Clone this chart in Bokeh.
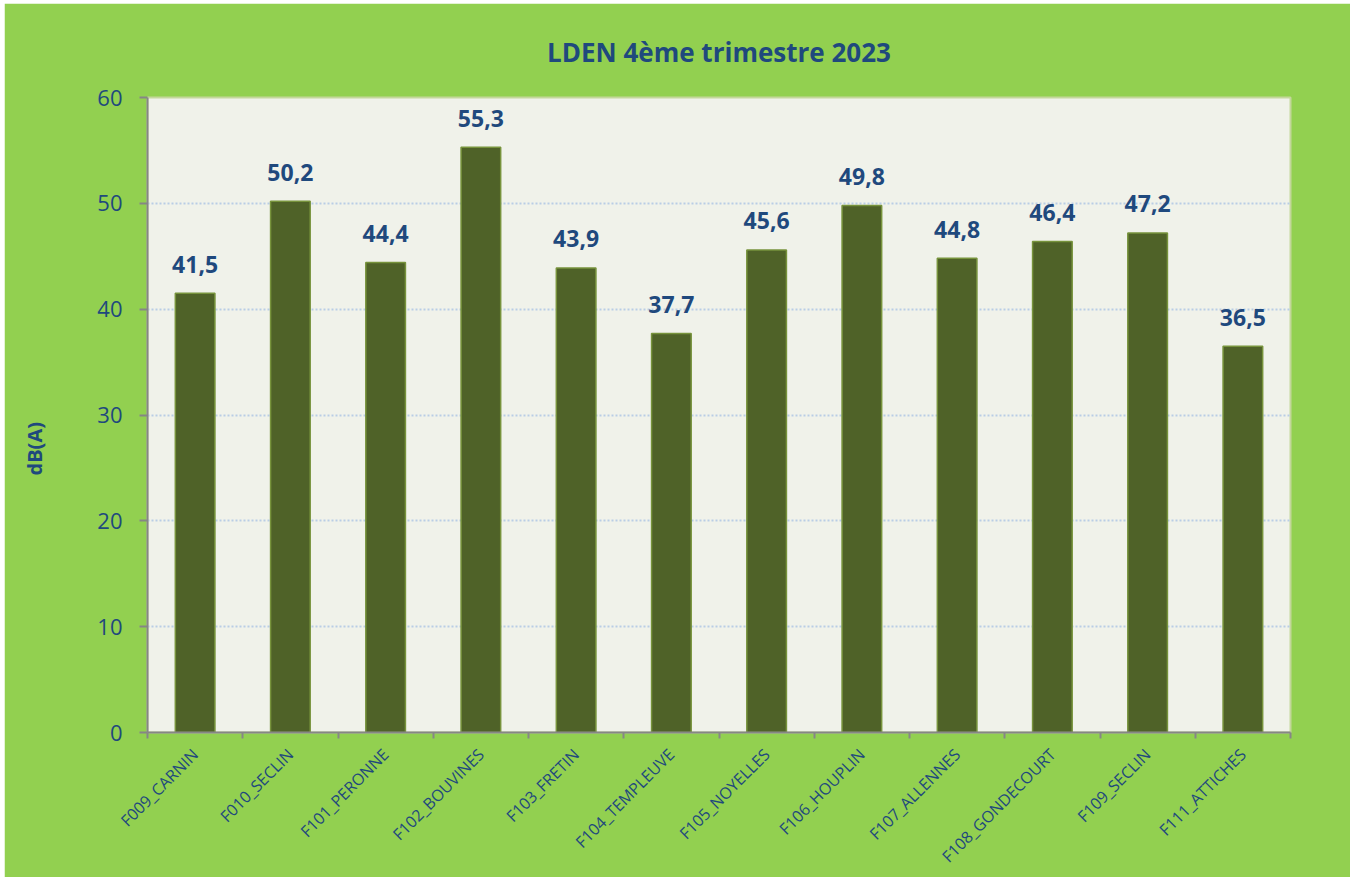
import math
from bokeh.plotting import figure
from bokeh.models import ColumnDataSource, Range1d, FixedTicker
from bokeh.core.properties import value
from bokeh.embed import file_html
from bokeh.resources import INLINE

stations = ["F009_CARNIN", "F010_SECLIN", "F101_PERONNE", "F102_BOUVINES", "F103_FRETIN",
            "F104_TEMPLEUVE", "F105_NOYELLES", "F106_HOUPLIN", "F107_ALLENNES",
            "F108_GONDECOURT", "F109_SECLIN", "F111_ATTICHES"]
lden = [41.5, 50.2, 44.4, 55.3, 43.9, 37.7, 45.6, 49.8, 44.8, 46.4, 47.2, 36.5]
y_ticks = [0, 10, 20, 30, 40, 50, 60]
title_text = "LDEN 4ème trimestre 2023"
y_label = "dB(A)"

FONT = "Open Sans"
BLUE = "#1F497D"

n = len(stations)
xs = [i + 0.5 for i in range(n)]
src = ColumnDataSource(dict(x=xs, top=lden,
                            lab=[f"{v:.1f}".replace(".", ",") for v in lden]))

p = figure(width=1346, height=874, output_backend="svg", toolbar_location=None,
           x_range=Range1d(0, n), y_range=Range1d(0, 60),
           min_border_left=143, min_border_right=60, min_border_top=93, min_border_bottom=145)
p.margin = (3, 4, 0, 4)
p.background_fill_color = "#F0F2EA"
p.border_fill_color = "#92D050"
p.outline_line_color = "#C4D79B"
p.outline_line_width = 2

p.title.text = title_text
p.title.align = "center"
p.title.text_font = FONT
p.title.text_font_style = "bold"
p.title.text_font_size = "26px"
p.title.text_color = BLUE
p.title.standoff = 56

p.vbar(x="x", top="top", width=0.416, source=src, fill_color="#4F6228",
       line_color="#77933C", line_width=1.5)
p.text(x="x", y="top", text="lab", source=src, y_offset=-29,
       text_align="center", text_baseline="alphabetic",
       text_font=value(FONT), text_font_style="bold", text_font_size="23px",
       text_color=BLUE)

# axes
xa = p.xaxis[0]
xa.ticker = FixedTicker(ticks=xs, minor_ticks=list(range(n + 1)))
xa.major_label_overrides = {x: s for x, s in zip(xs, stations)}
xa.major_label_orientation = math.pi / 4
xa.major_tick_out = 0
xa.major_tick_in = 0
xa.minor_tick_out = 6
xa.minor_tick_in = 0
xa.minor_tick_line_color = "#868686"
xa.minor_tick_line_width = 2
xa.axis_line_color = "#868686"
xa.axis_line_width = 2
xa.major_label_text_font = FONT
xa.major_label_text_font_size = "16px"
xa.major_label_text_color = BLUE
xa.major_label_standoff = 13

ya = p.yaxis[0]
ya.ticker = FixedTicker(ticks=y_ticks)
ya.major_tick_out = 8
ya.major_tick_in = 0
ya.minor_tick_line_color = None
ya.major_tick_line_color = "#868686"
ya.major_tick_line_width = 2
ya.axis_line_color = "#868686"
ya.axis_line_width = 2
ya.major_label_text_font = FONT
ya.major_label_text_font_size = "22px"
ya.major_label_text_color = BLUE
ya.major_label_standoff = 17
ya.axis_label = y_label + "\u00a0" * 13
ya.axis_label_text_font = FONT
ya.axis_label_text_font_style = "bold"
ya.axis_label_text_font_size = "20px"
ya.axis_label_text_color = BLUE
ya.axis_label_standoff = 46

p.xgrid.grid_line_color = None
p.ygrid.ticker = FixedTicker(ticks=y_ticks[1:])
p.ygrid.grid_line_color = "#B9CDE5"
p.ygrid.grid_line_dash = "2 2"
p.ygrid.grid_line_width = 2

open("out.html", "w").write(file_html(p, INLINE))
